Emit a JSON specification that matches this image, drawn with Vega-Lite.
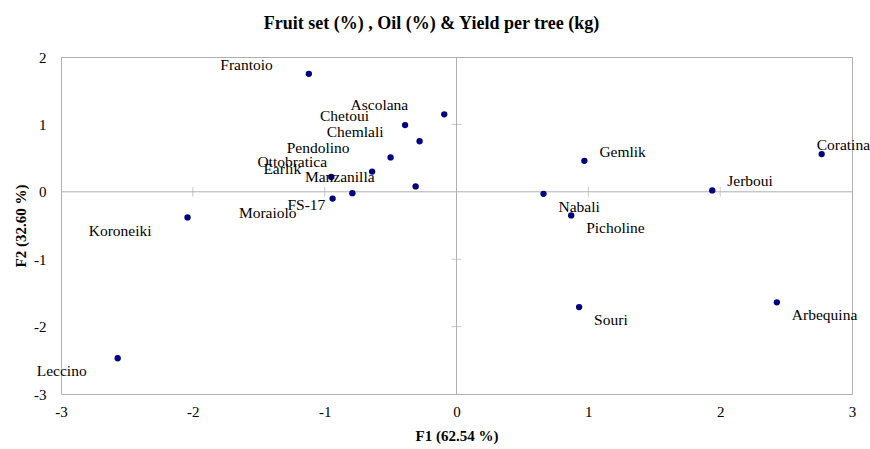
{
  "$schema": "https://vega.github.io/schema/vega-lite/v6.json",
  "width": 791,
  "height": 337,
  "autosize": {"type": "none"},
  "padding": {"left": 61, "top": 57, "right": 18, "bottom": 55},
  "config": {"view": {"stroke": "#B0B0B0", "strokeWidth": 1}, "font": "'Liberation Serif', 'Times New Roman', serif"},
  "title": {"text": "Fruit set (%) , Oil (%) & Yield  per tree (kg)", "font": "'Liberation Serif', 'Times New Roman', serif", "fontSize": 18, "fontWeight": "bold", "color": "black", "anchor": "middle", "dx": -25, "offset": 17},
  "datasets": {
    "pts": [
      {"name": "Frantoio", "F1": -1.12, "F2": 1.75},
      {"name": "Ascolana", "F1": -0.093, "F2": 1.15},
      {"name": "Chetoui", "F1": -0.39, "F2": 0.99},
      {"name": "Chemlali", "F1": -0.28, "F2": 0.75},
      {"name": "Pendolino", "F1": -0.5, "F2": 0.51},
      {"name": "Ottobratica", "F1": -0.64, "F2": 0.3},
      {"name": "Earlik", "F1": -0.95, "F2": 0.22},
      {"name": "Manzanilla", "F1": -0.31, "F2": 0.08},
      {"name": "FS-17", "F1": -0.79, "F2": -0.02},
      {"name": "Moraiolo", "F1": -0.94, "F2": -0.1},
      {"name": "Koroneiki", "F1": -2.04, "F2": -0.38},
      {"name": "Leccino", "F1": -2.57, "F2": -2.47},
      {"name": "Gemlik", "F1": 0.97, "F2": 0.46},
      {"name": "Jerboui", "F1": 1.94, "F2": 0.02},
      {"name": "Coratina", "F1": 2.77, "F2": 0.56},
      {"name": "Nabali", "F1": 0.66, "F2": -0.03},
      {"name": "Picholine", "F1": 0.87, "F2": -0.35},
      {"name": "Souri", "F1": 0.93, "F2": -1.71},
      {"name": "Arbequina", "F1": 2.43, "F2": -1.64}
    ],
    "xt": [{"v": -2}, {"v": -1}, {"v": 1}, {"v": 2}],
    "yt": [{"v": -2}, {"v": -1}, {"v": 1}]
  },
  "layer": [
    {
      "data": {"values": [{}]},
      "mark": {"type": "rule", "color": "#B0B0B0", "strokeWidth": 1},
      "encoding": {"x": {"datum": 0, "type": "quantitative", "scale": {"domain": [-3, 3], "nice": false, "zero": false}}}
    },
    {
      "data": {"values": [{}]},
      "mark": {"type": "rule", "color": "#B0B0B0", "strokeWidth": 1},
      "encoding": {"y": {"datum": 0, "type": "quantitative", "scale": {"domain": [-3, 2], "nice": false, "zero": false}}}
    },
    {
      "data": {"name": "xt"},
      "mark": {"type": "tick", "orient": "vertical", "size": 10, "thickness": 1, "color": "#B0B0B0"},
      "encoding": {
        "x": {"field": "v", "type": "quantitative"},
        "y": {"datum": 0, "type": "quantitative"}
      }
    },
    {
      "data": {"name": "yt"},
      "mark": {"type": "tick", "orient": "horizontal", "size": 10, "thickness": 1, "color": "#B0B0B0"},
      "encoding": {
        "y": {"field": "v", "type": "quantitative"},
        "x": {"datum": 0, "type": "quantitative"}
      }
    },
    {
      "data": {"name": "pts"},
      "mark": {"type": "circle", "size": 40, "color": "#000080", "opacity": 1},
      "encoding": {
        "x": {"field": "F1", "type": "quantitative", "scale": {"domain": [-3, 3], "nice": false, "zero": false},
          "axis": {"title": "F1 (62.54 %)", "values": [-3, -2, -1, 0, 1, 2, 3], "labelExpr": "datum.value + ''", "domain": false, "ticks": false, "grid": false, "labelFlush": false, "labelFont": "'Liberation Serif', 'Times New Roman', serif", "labelFontSize": 15, "labelColor": "black", "labelPadding": 10, "titleFont": "'Liberation Serif', 'Times New Roman', serif", "titleFontSize": 15, "titleFontWeight": "bold", "titleColor": "black", "titlePadding": 9}},
        "y": {"field": "F2", "type": "quantitative", "scale": {"domain": [-3, 2], "nice": false, "zero": false},
          "axis": {"title": "F2 (32.60 %)", "values": [-3, -2, -1, 0, 1, 2], "labelExpr": "datum.value + ''", "domain": false, "ticks": false, "grid": false, "labelFlush": false, "labelFont": "'Liberation Serif', 'Times New Roman', serif", "labelFontSize": 15, "labelColor": "black", "labelPadding": 15, "titleFont": "'Liberation Serif', 'Times New Roman', serif", "titleFontSize": 15, "titleFontWeight": "bold", "titleColor": "black", "titlePadding": 5}}
      }
    },
    {
      "data": {"name": "pts"},
      "transform": [{"filter": {"field": "name", "oneOf": ["Frantoio", "Ascolana", "Chetoui", "Chemlali"]}}],
      "mark": {"type": "text", "align": "right", "baseline": "middle", "dx": -36, "dy": -9, "font": "'Liberation Serif', 'Times New Roman', serif", "fontSize": 15.5, "color": "black"},
      "encoding": {"x": {"field": "F1", "type": "quantitative"}, "y": {"field": "F2", "type": "quantitative"}, "text": {"field": "name"}}
    },
    {
      "data": {"name": "pts"},
      "transform": [{"filter": {"field": "name", "oneOf": ["Pendolino", "Manzanilla"]}}],
      "mark": {"type": "text", "align": "right", "baseline": "middle", "dx": -41, "dy": -9, "font": "'Liberation Serif', 'Times New Roman', serif", "fontSize": 15.5, "color": "black"},
      "encoding": {"x": {"field": "F1", "type": "quantitative"}, "y": {"field": "F2", "type": "quantitative"}, "text": {"field": "name"}}
    },
    {
      "data": {"name": "pts"},
      "transform": [{"filter": {"field": "name", "oneOf": ["Ottobratica"]}}],
      "mark": {"type": "text", "align": "right", "baseline": "middle", "dx": -45, "dy": -10, "font": "'Liberation Serif', 'Times New Roman', serif", "fontSize": 15.5, "color": "black"},
      "encoding": {"x": {"field": "F1", "type": "quantitative"}, "y": {"field": "F2", "type": "quantitative"}, "text": {"field": "name"}}
    },
    {
      "data": {"name": "pts"},
      "transform": [{"filter": {"field": "name", "oneOf": ["Earlik"]}}],
      "mark": {"type": "text", "align": "right", "baseline": "middle", "dx": -30, "dy": -8, "font": "'Liberation Serif', 'Times New Roman', serif", "fontSize": 15.5, "color": "black"},
      "encoding": {"x": {"field": "F1", "type": "quantitative"}, "y": {"field": "F2", "type": "quantitative"}, "text": {"field": "name"}}
    },
    {
      "data": {"name": "pts"},
      "transform": [{"filter": {"field": "name", "oneOf": ["FS-17"]}}],
      "mark": {"type": "text", "align": "right", "baseline": "middle", "dx": -27, "dy": 12, "font": "'Liberation Serif', 'Times New Roman', serif", "fontSize": 15.5, "color": "black"},
      "encoding": {"x": {"field": "F1", "type": "quantitative"}, "y": {"field": "F2", "type": "quantitative"}, "text": {"field": "name"}}
    },
    {
      "data": {"name": "pts"},
      "transform": [{"filter": {"field": "name", "oneOf": ["Moraiolo", "Koroneiki"]}}],
      "mark": {"type": "text", "align": "right", "baseline": "middle", "dx": -36, "dy": 14, "font": "'Liberation Serif', 'Times New Roman', serif", "fontSize": 15.5, "color": "black"},
      "encoding": {"x": {"field": "F1", "type": "quantitative"}, "y": {"field": "F2", "type": "quantitative"}, "text": {"field": "name"}}
    },
    {
      "data": {"name": "pts"},
      "transform": [{"filter": {"field": "name", "oneOf": ["Leccino"]}}],
      "mark": {"type": "text", "align": "right", "baseline": "middle", "dx": -31, "dy": 13, "font": "'Liberation Serif', 'Times New Roman', serif", "fontSize": 15.5, "color": "black"},
      "encoding": {"x": {"field": "F1", "type": "quantitative"}, "y": {"field": "F2", "type": "quantitative"}, "text": {"field": "name"}}
    },
    {
      "data": {"name": "pts"},
      "transform": [{"filter": {"field": "name", "oneOf": ["Gemlik", "Jerboui"]}}],
      "mark": {"type": "text", "align": "left", "baseline": "middle", "dx": 15, "dy": -9, "font": "'Liberation Serif', 'Times New Roman', serif", "fontSize": 15.5, "color": "black"},
      "encoding": {"x": {"field": "F1", "type": "quantitative"}, "y": {"field": "F2", "type": "quantitative"}, "text": {"field": "name"}}
    },
    {
      "data": {"name": "pts"},
      "transform": [{"filter": {"field": "name", "oneOf": ["Nabali", "Picholine", "Souri", "Arbequina"]}}],
      "mark": {"type": "text", "align": "left", "baseline": "middle", "dx": 15, "dy": 13, "font": "'Liberation Serif', 'Times New Roman', serif", "fontSize": 15.5, "color": "black"},
      "encoding": {"x": {"field": "F1", "type": "quantitative"}, "y": {"field": "F2", "type": "quantitative"}, "text": {"field": "name"}}
    },
    {
      "data": {"name": "pts"},
      "transform": [{"filter": {"field": "name", "oneOf": ["Coratina"]}}],
      "mark": {"type": "text", "align": "left", "baseline": "middle", "dx": -5, "dy": -9, "font": "'Liberation Serif', 'Times New Roman', serif", "fontSize": 15.5, "color": "black"},
      "encoding": {"x": {"field": "F1", "type": "quantitative"}, "y": {"field": "F2", "type": "quantitative"}, "text": {"field": "name"}}
    }
  ]
}
